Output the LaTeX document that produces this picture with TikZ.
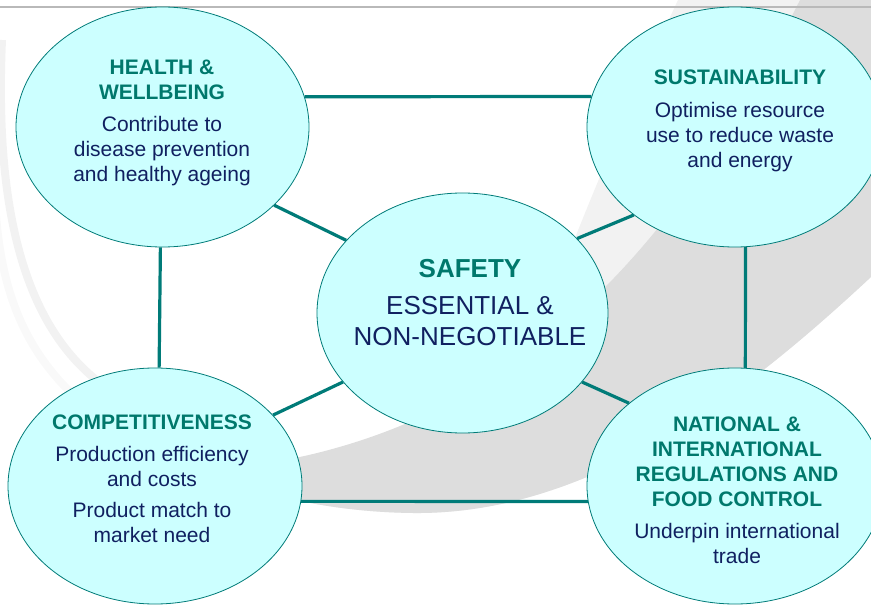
\documentclass[tikz,border=0pt]{standalone}
\usepackage{fontspec}
\setmainfont{Liberation Sans}
\usetikzlibrary{shapes.geometric}
\definecolor{bubblefill}{HTML}{CCFFFF}
\definecolor{tealline}{HTML}{007B78}
\definecolor{headteal}{HTML}{00786C}
\definecolor{bodynavy}{HTML}{102060}
\definecolor{swooshlight}{HTML}{F2F2F2}
\definecolor{swooshmid}{HTML}{DDDDDD}
\tikzset{
  bubble/.style={draw=tealline, line width=0.8pt, fill=bubblefill, ellipse, inner sep=0pt},
  bubbletext/.style={align=center, anchor=north, inner sep=0pt, text=bodynavy,
    font=\fontsize{21}{25}\selectfont},
  link/.style={draw=tealline, line width=3.2pt},
}
\newcommand\head[1]{\textcolor{headteal}{\bfseries #1}}
\newcommand\bubblenode[5]{%
  \node[bubble, minimum width=#4pt, minimum height=#5pt] (#1) at (#2, #3) {}
}

\begin{document}
\begin{tikzpicture}[x=1pt, y=-1pt]
        \useasboundingbox (0,0) rectangle (871,607);
        % The swoosh behind
        \fill[swooshlight] (678,0) -- (871,0) -- (871,277)
          .. controls (760,380) and (600,515) .. (413,513)
          .. controls (330,512) and (260,495) .. (200,470)
          -- (300,457) .. controls (400,440) and (520,390) .. (577,233)
          .. controls (610,150) and (650,60) .. (678,0) -- cycle;
        \fill[swooshmid] (800,0) -- (871,0) -- (871,277)
          .. controls (760,380) and (600,515) .. (413,513)
          .. controls (330,512) and (260,495) .. (200,470)
          -- (300,457) .. controls (560,400) and (700,200) .. (800,0) -- cycle;
        \draw[line width=8pt, gray!5] (-5,200) .. controls (0,300) and (30,360) .. (90,410);
        \draw[line width=8pt, gray!10] (2,40) .. controls (-5,200) and (20,330) .. (110,390);
        % Top rule
        \draw[line width=2pt, gray!55] (0,7) -- (871,7);

        % The bubbles
        \bubblenode{health}{162.5}{127}{293}{240};
        \bubblenode{sust}{735}{127}{296}{240};
        \bubblenode{safety}{462.5}{313}{291}{240};
        \bubblenode{comp}{155}{486}{294}{236};
        \bubblenode{reg}{735}{486}{296}{236};

        % The links
        \draw[link] (health.12) -- (sust.168);
        \draw[link] (comp.-6.3) -- (reg.186.3);
        \draw[link] (health.-91.7) -- (comp.88.1);
        \draw[link] (sust.-85.7) -- (reg.85.6);
        \draw[link] (health.-35) -- (safety.148);
        \draw[link] (sust.-139) -- (safety.33);
        \draw[link] (comp.31) -- (safety.-150);
        \draw[link] (reg.142) -- (safety.-30);

        % The texts
        \node[bubbletext] (healthtext) at (162,60) {
          \head{HEALTH \&} \\
          \head{WELLBEING} \\[7pt]
          Contribute to \\
          disease prevention \\
          and healthy ageing};
        \node[bubbletext] (susttext) at (740,70) {
          \head{SUSTAINABILITY} \\[8pt]
          Optimise resource \\
          use to reduce waste \\
          and energy};
        \node[bubbletext, font=\fontsize{26}{31}\selectfont] (safetytext) at (470,259) {
          \head{SAFETY} \\[6pt]
          ESSENTIAL \& \\
          NON-NEGOTIABLE};
        \node[bubbletext] (comptext) at (152,415) {
          \head{COMPETITIVENESS} \\[7pt]
          Production efficiency \\
          and costs \\[6pt]
          Product match to \\
          market need};
        \node[bubbletext] (regtext) at (737,417) {
          \head{NATIONAL \&} \\
          \head{INTERNATIONAL} \\
          \head{REGULATIONS AND} \\
          \head{FOOD CONTROL} \\[7pt]
          Underpin international \\
          trade};
    \end{tikzpicture}
\end{document}
